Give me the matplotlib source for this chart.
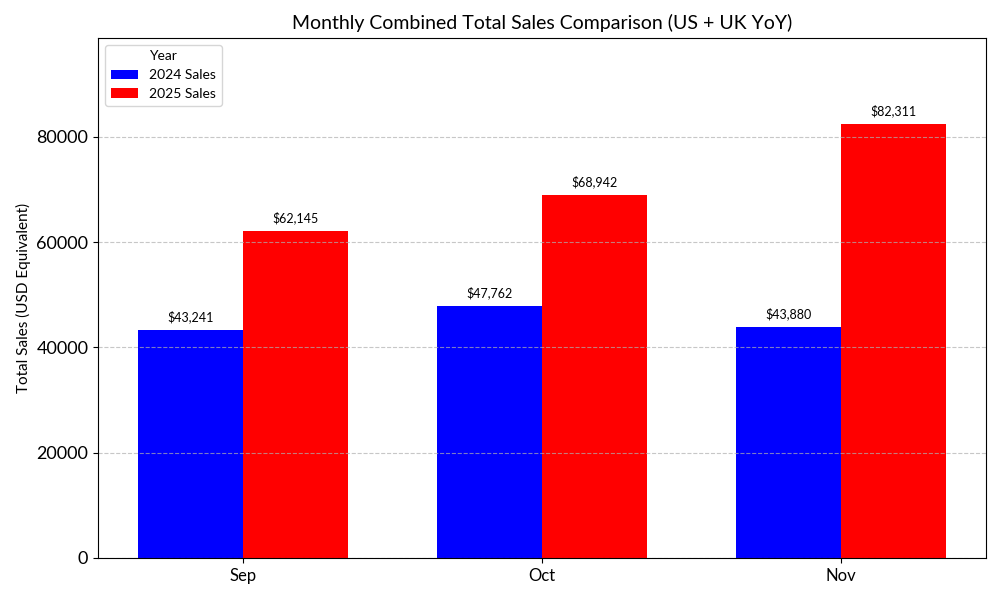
import matplotlib
matplotlib.use("Agg")
import matplotlib.pyplot as plt
import numpy as np

months = ["Sep", "Oct", "Nov"]
sales_2024 = [43241, 47762, 43880]
sales_2025 = [62145, 68942, 82311]
series_labels = ["2024 Sales", "2025 Sales"]

plt.rcParams['font.family'] = ['Lato', 'DejaVu Sans']

fig, ax = plt.subplots(figsize=(10, 6), dpi=100)
x = np.arange(len(months))
w = 0.35
b1 = ax.bar(x - w/2, sales_2024, w, color='blue', label=series_labels[0])
b2 = ax.bar(x + w/2, sales_2025, w, color='red', label=series_labels[1])

for bars in (b1, b2):
    for r in bars:
        h = r.get_height()
        ax.annotate(f"${h:,.0f}", xy=(r.get_x() + r.get_width()/2, h),
                    xytext=(0, 5), textcoords='offset points',
                    ha='center', va='bottom', fontsize=9)

ax.set_xticks(x)
ax.set_xticklabels(months, fontsize=12)
ax.tick_params(axis='y', labelsize=13)
ax.set_ylim(0, max(sales_2025) * 1.2)
ax.set_ylabel("Total Sales (USD Equivalent)", fontsize=11)
ax.set_title("Monthly Combined Total Sales Comparison (US + UK YoY)", fontsize=14)
ax.yaxis.grid(True, linestyle='--', alpha=0.7, color='#b0b0b0')
ax.legend(title="Year", loc='upper left', fontsize=10, title_fontsize=10)

fig.subplots_adjust(left=0.098, right=0.986, top=0.937, bottom=0.07)
fig.savefig("out.png", dpi=100)
